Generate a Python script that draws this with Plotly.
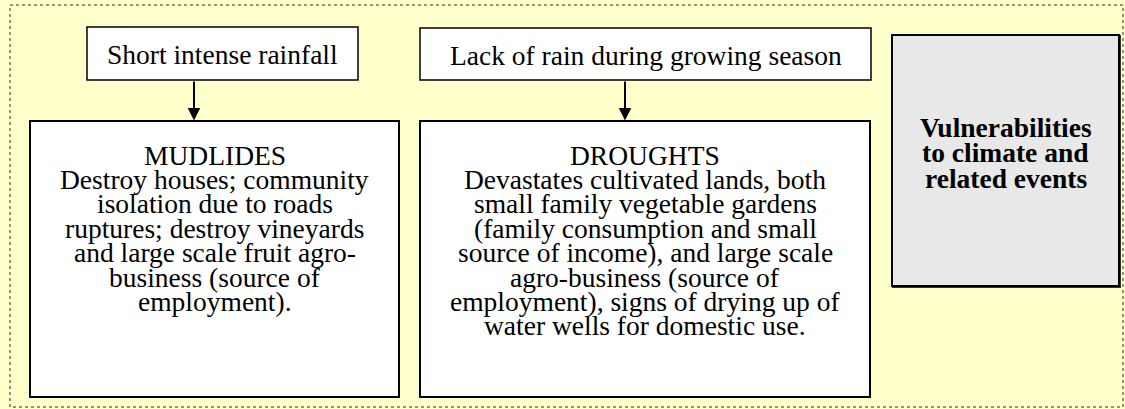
import plotly.graph_objects as go

W, H = 1125, 409
BG = "#FFFFCC"
FONT = "Liberation Serif, Times New Roman, serif"
FS = 27.5

# ---- text content ----
cause_labels = ["Short intense rainfall", "Lack of rain during growing season"]
event_titles = ["MUDLIDES", "DROUGHTS"]
event_lines = [
    ["Destroy houses; community",
     "isolation due to roads",
     "ruptures; destroy vineyards",
     "and large scale fruit agro-",
     "business (source of",
     "employment)."],
    ["Devastates cultivated lands, both",
     "small family vegetable gardens",
     "(family consumption and small",
     "source of income), and large scale",
     "agro-business (source of",
     "employment), signs of drying up of",
     "water wells for domestic use."],
]
side_lines = ["Vulnerabilities", "to climate and", "related events"]

# ---- layout geometry (pixels) ----
cause_boxes = [(87, 27, 358, 80), (420, 28, 871, 80)]
event_boxes = [(30, 121, 399, 397), (420, 121, 870, 397)]
arrow_x = [194, 625]
side_box = (892, 35, 1119, 286)
line_y0 = 155
line_dy = 24.4
side_y = [127, 152.5, 178]

fig = go.Figure()
shapes = []
annotations = []

# outer dotted frame
shapes.append(dict(type="rect", x0=10, y0=5, x1=1123, y1=407,
                   line=dict(color="#2a2a2a", width=1, dash="dot"),
                   fillcolor="rgba(0,0,0,0)", layer="below"))

for (x0, y0, x1, y1), label in zip(cause_boxes, cause_labels):
    shapes.append(dict(type="rect", x0=x0, y0=y0, x1=x1, y1=y1,
                       line=dict(color="black", width=1.5), fillcolor="white"))
    annotations.append(dict(x=(x0 + x1) / 2, y=(y0 + y1) / 2 + 1, text=label,
                            showarrow=False, xanchor="center", yanchor="middle",
                            font=dict(family=FONT, size=FS, color="black")))

for (x0, y0, x1, y1), title, lines in zip(event_boxes, event_titles, event_lines):
    shapes.append(dict(type="rect", x0=x0, y0=y0, x1=x1, y1=y1,
                       line=dict(color="black", width=2), fillcolor="white"))
    cx = (x0 + x1) / 2
    for i, t in enumerate([title] + lines):
        annotations.append(dict(x=cx, y=line_y0 + i * line_dy, text=t,
                                showarrow=False, xanchor="center", yanchor="middle",
                                font=dict(family=FONT, size=FS, color="black")))

for ax_, (cb, eb) in zip(arrow_x, zip(cause_boxes, event_boxes)):
    annotations.append(dict(x=ax_, y=eb[1] - 0.5, ax=ax_, ay=cb[3],
                            xref="x", yref="y", axref="x", ayref="y",
                            showarrow=True, arrowhead=2, arrowsize=1.25,
                            arrowwidth=2, arrowcolor="black", text="",
                            standoff=0, startstandoff=0))

# side grey box with shadow-like double border
sx0, sy0, sx1, sy1 = side_box
shapes.append(dict(type="rect", x0=sx0 + 1, y0=sy0 + 1, x1=sx1 + 1, y1=sy1 + 1,
                   line=dict(color="#333333", width=2), fillcolor="#333333"))
shapes.append(dict(type="rect", x0=sx0, y0=sy0, x1=sx1, y1=sy1,
                   line=dict(color="black", width=2), fillcolor="#E8E8E8"))
for y, t in zip(side_y, side_lines):
    annotations.append(dict(x=(sx0 + sx1) / 2, y=y, text="<b>" + t + "</b>",
                            showarrow=False, xanchor="center", yanchor="middle",
                            font=dict(family=FONT, size=FS, color="black")))

fig.update_layout(
    width=W, height=H,
    margin=dict(l=0, r=0, t=0, b=0),
    paper_bgcolor=BG, plot_bgcolor=BG,
    xaxis=dict(range=[0, W], visible=False, fixedrange=True),
    yaxis=dict(range=[H, 0], visible=False, fixedrange=True),
    shapes=shapes, annotations=annotations, showlegend=False,
)
fig.write_html(
    "out.html",
    config={"displayModeBar": False},
    post_script="document.body.style.margin='0';document.body.style.overflow='hidden';"
                "document.body.style.background='" + BG + "';",
)
